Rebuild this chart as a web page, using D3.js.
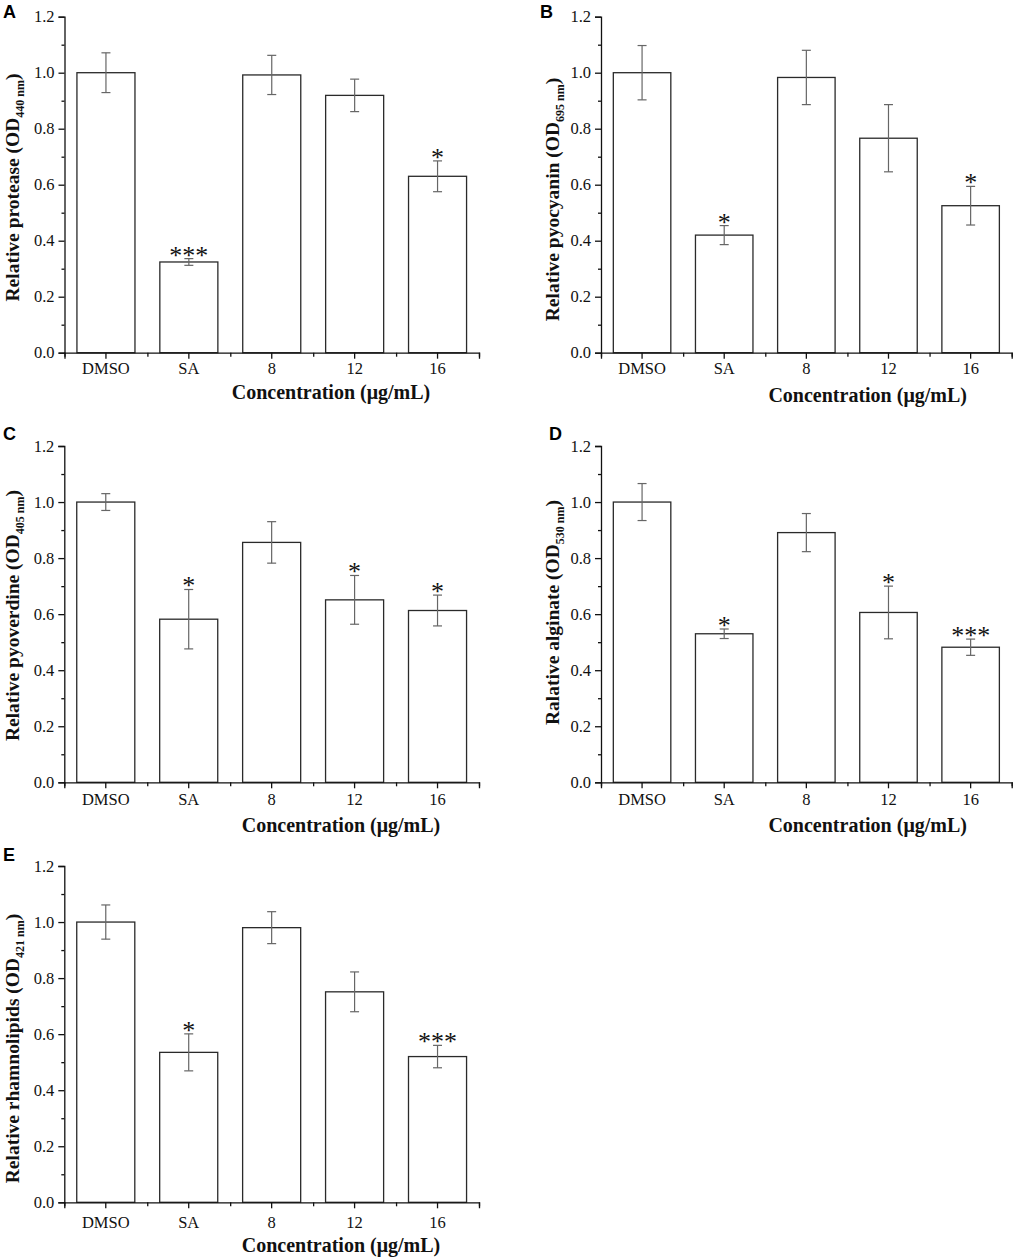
<!DOCTYPE html>
<html>
<head>
<meta charset="utf-8">
<script src="https://cdn.jsdelivr.net/npm/d3@7"></script>
<style>
  body { margin: 0; background: #fff; }
  svg text { font-family: "Liberation Serif", "Times New Roman", serif; }
</style>
</head>
<body>
<div id="fig"></div>
<script>
// data
const categories = ["DMSO", "SA", "8", "12", "16"];
const yTicks = [0, 0.2, 0.4, 0.6, 0.8, 1.0, 1.2];

const proteaseMean = [1.0, 0.324, 0.992, 0.919, 0.630];
const proteaseErr  = [0.071, 0.012, 0.070, 0.058, 0.055];
const proteaseSig  = ["", "***", "", "", "*"];

const pyocyaninMean = [1.0, 0.420, 0.983, 0.766, 0.525];
const pyocyaninErr  = [0.097, 0.034, 0.097, 0.120, 0.069];
const pyocyaninSig  = ["", "*", "", "", "*"];

const pyoverdineMean = [1.0, 0.582, 0.856, 0.651, 0.613];
const pyoverdineErr  = [0.030, 0.106, 0.074, 0.087, 0.055];
const pyoverdineSig  = ["", "*", "", "*", "*"];

const alginateMean = [1.0, 0.530, 0.891, 0.606, 0.482];
const alginateErr  = [0.066, 0.017, 0.068, 0.094, 0.029];
const alginateSig  = ["", "*", "", "*", "***"];

const rhamnoMean = [1.0, 0.535, 0.980, 0.751, 0.520];
const rhamnoErr  = [0.061, 0.066, 0.057, 0.071, 0.040];
const rhamnoSig  = ["", "*", "", "", "***"];

const xTitle = "Concentration (\u03bcg/mL)";

// panel layout (pixels)
const panels = [
  { letter: "A", lx: 3, ly: 18, left: 64.5, right: 479, top: 16.7, bottom: 352.7,
    yl: ["Relative protease (OD", "440 nm", ")"], ylx: 18.5, yly: 187.5,
    tickDy: 22, titleX: 331, titleY: 399,
    mean: proteaseMean, err: proteaseErr, sig: proteaseSig },
  { letter: "B", lx: 540, ly: 18, left: 601, right: 1011.7, top: 16.7, bottom: 352.7,
    yl: ["Relative pyocyanin (OD", "695 nm", ")"], ylx: 558.5, yly: 199.5,
    tickDy: 22, titleX: 867.7, titleY: 401.5,
    mean: pyocyaninMean, err: pyocyaninErr, sig: pyocyaninSig },
  { letter: "C", lx: 3, ly: 440, left: 64.3, right: 479, top: 446, bottom: 782.3,
    yl: ["Relative pyoverdine (OD", "405 nm", ")"], ylx: 18.5, yly: 615.5,
    tickDy: 22.7, titleX: 341, titleY: 832,
    mean: pyoverdineMean, err: pyoverdineErr, sig: pyoverdineSig },
  { letter: "D", lx: 549, ly: 440, left: 601, right: 1011.7, top: 446, bottom: 782.3,
    yl: ["Ralative alginate (OD", "530 nm", ")"], ylx: 558.5, yly: 612.5,
    tickDy: 22.7, titleX: 867.7, titleY: 832,
    mean: alginateMean, err: alginateErr, sig: alginateSig },
  { letter: "E", lx: 3, ly: 860.5, left: 64.3, right: 479, top: 866, bottom: 1202.3,
    yl: ["Relative rhamnolipids (OD", "421 nm", ")"], ylx: 18.5, yly: 1048.5,
    tickDy: 25.7, titleX: 341, titleY: 1252,
    mean: rhamnoMean, err: rhamnoErr, sig: rhamnoSig }
];

const svg = d3.select("#fig")
  .append("svg")
  .attr("width", 1017)
  .attr("height", 1258);

panels.forEach(drawPanel);

function drawPanel(p) {
  const g = svg.append("g");

  const x = d3.scaleBand()
    .domain(categories)
    .range([p.left, p.right])
    .padding(0);

  const y = d3.scaleLinear()
    .domain([0, 1.2])
    .range([p.bottom, p.top]);

  const barW = x.bandwidth() * 0.7;
  const rows = categories.map((c, i) => ({ cat: c, v: p.mean[i], e: p.err[i], s: p.sig[i] }));

  // bars
  g.selectAll("rect.bar")
    .data(rows)
    .enter().append("rect")
    .attr("class", "bar")
    .attr("x", d => x(d.cat) + (x.bandwidth() - barW) / 2)
    .attr("y", d => y(d.v))
    .attr("width", barW)
    .attr("height", d => y(0) - y(d.v))
    .attr("fill", "#fff")
    .attr("stroke", "#2a2a2a")
    .attr("stroke-width", 1.3);

  // error bars
  const cx = d => x(d.cat) + x.bandwidth() / 2;
  const eb = g.selectAll("g.err")
    .data(rows)
    .enter().append("g")
    .attr("class", "err")
    .attr("stroke", "#666")
    .attr("stroke-width", 1.2);
  eb.append("line")
    .attr("x1", cx).attr("x2", cx)
    .attr("y1", d => y(d.v + d.e)).attr("y2", d => y(d.v - d.e));
  eb.append("line")
    .attr("x1", d => cx(d) - 4.5).attr("x2", d => cx(d) + 4.5)
    .attr("y1", d => y(d.v + d.e)).attr("y2", d => y(d.v + d.e));
  eb.append("line")
    .attr("x1", d => cx(d) - 4.5).attr("x2", d => cx(d) + 4.5)
    .attr("y1", d => y(d.v - d.e)).attr("y2", d => y(d.v - d.e));

  // significance stars
  g.selectAll("text.sig")
    .data(rows.filter(d => d.s))
    .enter().append("text")
    .attr("class", "sig")
    .attr("x", cx)
    .attr("y", d => y(d.v + d.e) + 5)
    .attr("text-anchor", "middle")
    .attr("font-size", 26)
    .attr("fill", "#111")
    .text(d => d.s);

  // y axis with minor ticks
  const yAxis = g.append("g")
    .attr("transform", `translate(${p.left},0)`)
    .call(d3.axisLeft(y).tickValues(yTicks).tickFormat(d3.format(".1f"))
      .tickSizeOuter(0).tickSize(6).tickPadding(4));
  yAxis.selectAll("text").attr("font-size", 16.5).attr("fill", "#111")
    .style("font-family", "Liberation Serif");
  g.append("g")
    .attr("transform", `translate(${p.left},0)`)
    .call(d3.axisLeft(y).tickValues(d3.range(0.1, 1.2, 0.2)).tickFormat("").tickSizeOuter(0).tickSize(3))
    .select(".domain").remove();

  // x axis: major ticks at bar centres, minor ticks at band edges
  const xAxis = g.append("g")
    .attr("transform", `translate(0,${p.bottom})`)
    .call(d3.axisBottom(x).tickSizeOuter(0).tickSize(6).tickPadding(p.tickDy - 18));
  xAxis.selectAll("text").attr("font-size", 16.5).attr("fill", "#111")
    .attr("dy", "0.71em")
    .style("font-family", "Liberation Serif");
  const edges = d3.scaleLinear().domain([0, categories.length]).range([p.left, p.right]);
  g.append("g")
    .attr("transform", `translate(0,${p.bottom})`)
    .call(d3.axisBottom(edges).tickValues(d3.range(0, categories.length + 1)).tickFormat("").tickSizeOuter(0).tickSize(4))
    .select(".domain").remove();

  g.selectAll(".domain, .tick line").attr("stroke", "#111").attr("stroke-width", 1.3);

  // axis titles
  g.append("text")
    .attr("x", p.titleX)
    .attr("y", p.titleY)
    .attr("text-anchor", "middle")
    .attr("font-size", 20)
    .attr("font-weight", "bold")
    .attr("fill", "#111")
    .text(xTitle);

  const yl = g.append("text")
    .attr("transform", `translate(${p.ylx},${p.yly}) rotate(-90)`)
    .attr("text-anchor", "middle")
    .attr("font-size", 19.5)
    .attr("font-weight", "bold")
    .attr("fill", "#111");
  yl.append("tspan").text(p.yl[0]);
  yl.append("tspan").attr("font-size", 12).attr("dy", 5).text(p.yl[1]);
  yl.append("tspan").attr("dy", -5).text(p.yl[2]);

  // panel letter
  g.append("text")
    .attr("x", p.lx)
    .attr("y", p.ly)
    .attr("font-size", 18)
    .attr("font-weight", "bold")
    .style("font-family", "Liberation Sans, Arial, sans-serif")
    .text(p.letter);
}
</script>
</body>
</html>
